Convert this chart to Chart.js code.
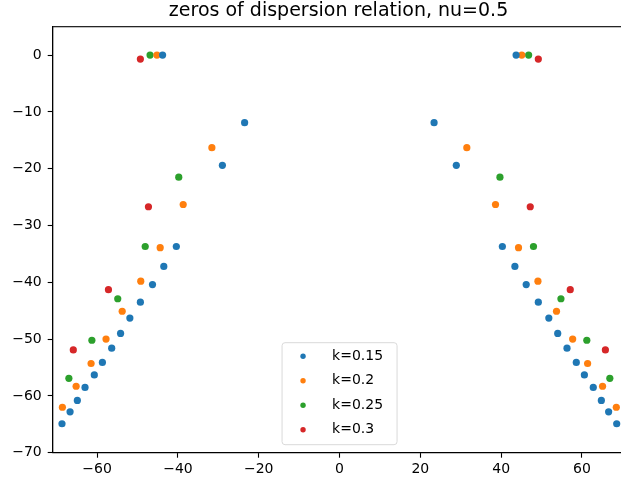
<!DOCTYPE html>
<html>
<head>
<meta charset="utf-8">
<script src="https://cdn.jsdelivr.net/npm/chart.js@4.4.1/dist/chart.umd.min.js"></script>
<style>
  html, body { margin:0; padding:0; overflow:hidden; background:#fff; }
  #wrap { position:relative; width:640px; height:484px; }
</style>
</head>
<body>
<div id="wrap"><canvas id="c" width="640" height="484"></canvas></div>
<script>
const titleText = 'zeros of dispersion relation, nu=0.5';
const seriesLabels = ['k=0.15', 'k=0.2', 'k=0.25', 'k=0.3'];
const seriesColors = ['#1f77b4', '#ff7f0e', '#2ca02c', '#d62728'];

// k=0.15
const k015x = [-43.8, -23.5, -29.0, -40.4, -43.5, -46.3, -49.3, -51.9, -54.2, -56.4, -58.7, -60.7, -63.0, -64.9, -66.7, -68.7,
               43.7, 23.4, 28.9, 40.3, 43.4, 46.2, 49.2, 51.8, 54.0, 56.3, 58.6, 60.6, 62.8, 64.8, 66.6, 68.6];
const k015y = [0, -11.9, -19.4, -33.7, -37.2, -40.4, -43.5, -46.3, -49.0, -51.6, -54.1, -56.3, -58.5, -60.8, -62.8, -64.9,
               0, -11.9, -19.4, -33.7, -37.2, -40.4, -43.5, -46.3, -49.0, -51.6, -54.1, -56.3, -58.5, -60.8, -62.8, -64.9];
// k=0.2
const k02x = [-45.2, -31.6, -38.7, -44.4, -49.2, -53.8, -57.8, -61.5, -65.2, -68.6,
              45.1, 31.5, 38.6, 44.3, 49.1, 53.7, 57.7, 61.4, 65.1, 68.5];
const k02y = [0, -16.3, -26.3, -33.9, -39.8, -45.1, -50.0, -54.3, -58.3, -62.0,
              0, -16.3, -26.3, -33.9, -39.8, -45.1, -50.0, -54.3, -58.3, -62.0];
// k=0.25
const k025x = [-46.9, -39.8, -48.1, -54.9, -61.3, -67.0, 46.8, 39.7, 48.0, 54.8, 61.2, 66.9];
const k025y = [0, -21.5, -33.7, -42.9, -50.2, -56.9, 0, -21.5, -33.7, -42.9, -50.2, -56.9];
// k=0.3
const k03x = [-49.3, -47.3, -57.2, -65.9, 49.2, 47.2, 57.1, 65.8];
const k03y = [-0.7, -26.7, -41.3, -51.9, -0.7, -26.7, -41.3, -51.9];

const xTicks = [-60, -40, -20, 0, 20, 40, 60];
const yTicks = [0, -10, -20, -30, -40, -50, -60, -70];

const allX = [k015x, k02x, k025x, k03x];
const allY = [k015y, k02y, k025y, k03y];

const datasets = seriesLabels.map((lab, i) => ({
  label: lab,
  data: allX[i].map((x, j) => ({ x: x, y: allY[i][j] })),
  backgroundColor: seriesColors[i],
  borderWidth: 0,
  pointRadius: 3.6
}));

const FONT = 'DejaVu Sans';
const fmt = v => String(v).replace('-', '\u2212');

// frame, title over the axes centre and a matplotlib-like legend
const frame = {
  id: 'frame',
  afterDraw(chart) {
    const a = chart.chartArea, ctx = chart.ctx;
    const cx = chart.scales.x.getPixelForValue(0);
    ctx.save();
    ctx.strokeStyle = '#000';
    ctx.lineWidth = 1.1;
    ctx.strokeRect(a.left, a.top, a.right - a.left, a.bottom - a.top);

    ctx.fillStyle = '#000';
    ctx.font = '19px "' + FONT + '"';
    ctx.textAlign = 'center';
    ctx.textBaseline = 'alphabetic';
    ctx.fillText(titleText, cx - 1, 16.3);

    const rowH = 24.5, boxW = 115, boxH = 102;
    const bx = cx - boxW / 2;
    const by = a.bottom - 8 - boxH;
    ctx.fillStyle = 'rgba(255,255,255,0.8)';
    ctx.strokeStyle = '#d9d9d9';
    ctx.lineWidth = 1;
    ctx.beginPath();
    ctx.roundRect(bx, by, boxW, boxH, 3);
    ctx.fill(); ctx.stroke();
    ctx.font = '14px "' + FONT + '"';
    ctx.textAlign = 'left';
    ctx.textBaseline = 'middle';
    chart.data.datasets.forEach((ds, i) => {
      const cy = by + 13.5 + i * rowH;
      ctx.fillStyle = ds.backgroundColor;
      ctx.beginPath();
      ctx.arc(bx + 21, cy, 2.7, 0, Math.PI * 2);
      ctx.fill();
      ctx.fillStyle = '#000';
      ctx.fillText(ds.label, bx + 50, cy);
    });
    ctx.restore();
  }
};

new Chart(document.getElementById('c'), {
  type: 'scatter',
  data: { datasets: datasets },
  options: {
    responsive: false,
    animation: false,
    layout: { padding: { left: 0, right: 13.6, top: 26.7, bottom: 0 } },
    plugins: {
      legend: { display: false },
      tooltip: { enabled: false },
      title: { display: false }
    },
    scales: {
      x: {
        type: 'linear', min: -71, max: 71,
        afterBuildTicks: s => { s.ticks = xTicks.map(v => ({ value: v })); },
        afterFit: s => { s.height = 31.3; },
        grid: { drawOnChartArea: false, color: '#000', tickLength: 5, tickWidth: 1.1 },
        border: { color: '#000', width: 1.1 },
        ticks: { color: '#000', font: { family: FONT, size: 14 }, padding: 3, maxRotation: 0, autoSkip: false, callback: fmt }
      },
      y: {
        type: 'linear', min: -70, max: 5,
        afterBuildTicks: s => { s.ticks = yTicks.map(v => ({ value: v })); },
        afterFit: s => { s.width = 52.7; },
        grid: { drawOnChartArea: false, color: '#000', tickLength: 5, tickWidth: 1.1 },
        border: { color: '#000', width: 1.1 },
        ticks: { color: '#000', font: { family: FONT, size: 14 }, padding: 6, autoSkip: false, callback: fmt }
      }
    }
  },
  plugins: [frame]
});
</script>
</body>
</html>
